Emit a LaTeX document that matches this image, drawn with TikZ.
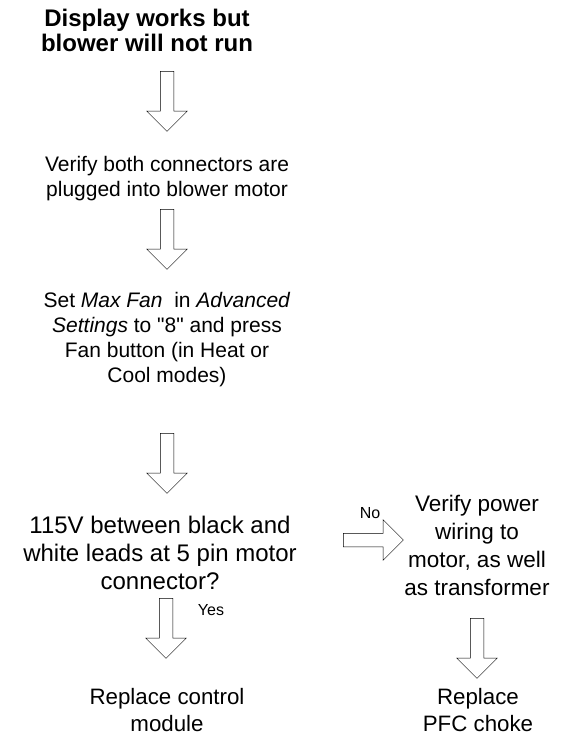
\documentclass[tikz,border=0pt]{standalone}
\usepackage{fontspec}
\setmainfont{Liberation Sans}
\usetikzlibrary{shapes.arrows, positioning}

\begin{document}
\begin{tikzpicture}[x=1pt, y=-1pt, font=\fontsize{21}{25}\selectfont,
  txt/.style={align=center, inner sep=0pt},
  blk/.style={single arrow, draw, line width=0.5pt, inner sep=6.5pt, minimum height=60pt,
    single arrow head extend=13.5pt, rotate=-90},
  lbl/.style={inner sep=0pt, font=\fontsize{16}{18}\selectfont}]
\useasboundingbox (0,0) rectangle (579,746);
\node[txt, font=\fontsize{24}{25}\selectfont\bfseries] (start) at (147,30) {Display works but\\blower will not run};
\node[blk] (a1) at (167,98) {};
\node[txt] (plug) at (167,179) {Verify both connectors are\\plugged into blower motor};
\node[blk] (a2) at (167,236) {};
\node[txt] (maxfan) at (167,340) {Set \textit{Max Fan}\ \ in \textit{Advanced}\\\textit{Settings} to \textquotedbl8\textquotedbl\ and press\\Fan button (in Heat or\\Cool modes)};
\node[blk] (a3) at (167,460) {};
\node[txt, font=\fontsize{24}{28}\selectfont] (volts) at (160,553) {115V between black and\\white leads at 5 pin motor\\connector?};
\node[blk, rotate=90] (no) at (370,540) {};
\node[lbl, above=14pt of no] (nolbl) {No};
\node[txt, font=\fontsize{22.5}{28}\selectfont] (power) at (477,545) {Verify power\\wiring to\\motor, as well\\as transformer};
\node[blk] (yes) at (166,625) {};
\node[lbl] (yeslbl) at ([xshift=45pt, yshift=-12pt]yes.west) {Yes};
\node[blk] (a5) at (477,645) {};
\node[txt, font=\fontsize{22.3}{27}\selectfont] (module) at (167,710) {Replace control\\module};
\node[txt, font=\fontsize{22.3}{27}\selectfont] (choke) at (478,710) {Replace\\PFC choke};
\end{tikzpicture}
\end{document}
